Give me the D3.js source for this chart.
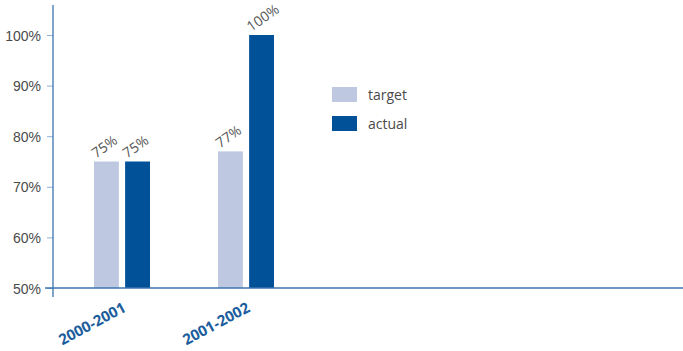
<!DOCTYPE html>
<html>
<head>
<meta charset="utf-8">
<script src="https://cdn.jsdelivr.net/npm/d3@7"></script>
<style>
  html, body { margin: 0; padding: 0; background: #fff; }
  svg { display: block; font-family: "Open Sans", "DejaVu Sans", sans-serif; }
</style>
</head>
<body>
<svg id="chart" width="683" height="351"></svg>
<script>
// Categories and series values (percent)
const categories = ["2000-2001", "2001-2002"];
const seriesNames = ["target", "actual"];
const targetValues = [75, 77];
const actualValues = [75, 100];
const yTicks = [50, 60, 70, 80, 90, 100];

const colors = { target: "#BEC9E1", actual: "#005197" };
const axisColor = "#3b74ae";
const textColor = "#4a4a4a";

const svg = d3.select("#chart");

const baseY = 288, topY = 35, axisX = 53;

const y = d3.scaleLinear().domain([50, 100]).range([baseY, topY]);
const x0 = d3.scaleBand().domain(categories).range([60, 308]).padding(0);
const x1 = d3.scaleBand().domain(seriesNames).range([0, 56]).paddingInner(0.2);

const rows = categories.map((c, i) => ({
  cat: c,
  values: [
    { key: "target", v: targetValues[i] },
    { key: "actual", v: actualValues[i] }
  ]
}));

// Y axis
const yAxis = d3.axisLeft(y).tickValues(yTicks).tickFormat(d => d + "%").tickSize(6).tickPadding(6);
const gy = svg.append("g").attr("transform", `translate(${axisX},0)`).call(yAxis);
gy.select(".domain").remove();
gy.selectAll(".tick line").attr("stroke", "#8fb0d4").attr("stroke-width", 1);
gy.selectAll(".tick text").attr("fill", textColor).attr("font-size", 14).attr("dy", "0.36em");
svg.append("line")
  .attr("x1", axisX).attr("x2", axisX)
  .attr("y1", 5).attr("y2", 297)
  .attr("stroke", axisColor).attr("stroke-width", 1.3);

// Bars
const groups = svg.append("g").selectAll("g").data(rows).join("g")
  .attr("transform", d => `translate(${x0(d.cat) + x0.bandwidth() / 2 - 28},0)`);

groups.selectAll("rect").data(d => d.values).join("rect")
  .attr("x", d => x1(d.key))
  .attr("y", d => y(d.v))
  .attr("width", x1.bandwidth())
  .attr("height", d => baseY - y(d.v))
  .attr("fill", d => colors[d.key]);

// Value labels, slanted above each bar
groups.selectAll("text").data(d => d.values).join("text")
  .attr("transform", d => `translate(${x1(d.key) + 2},${y(d.v) - 3}) rotate(-35)`)
  .attr("fill", "#555")
  .attr("font-size", 14)
  .text(d => d.v + "%");

// Baseline (x axis)
svg.append("line")
  .attr("x1", 45).attr("x2", 683)
  .attr("y1", baseY).attr("y2", baseY)
  .attr("stroke", axisColor).attr("stroke-width", 1.3);

// Category labels
svg.append("g").selectAll("text").data(categories).join("text")
  .attr("transform", d => `translate(${x0(d) + x0.bandwidth() / 2 + 5},${baseY + 23}) rotate(-28)`)
  .attr("text-anchor", "end")
  .attr("fill", "#1b5d9c")
  .attr("font-size", 15)
  .attr("font-weight", "bold")
  .text(d => d);

// Legend
const legend = svg.append("g").attr("transform", "translate(332,87)");
const items = legend.selectAll("g").data(seriesNames).join("g")
  .attr("transform", (d, i) => `translate(0,${i * 29})`);
items.append("rect").attr("width", 25).attr("height", 15).attr("fill", d => colors[d]);
items.append("text").attr("x", 36).attr("y", 12.5)
  .attr("fill", textColor).attr("font-size", 14).text(d => d);
</script>
</body>
</html>
